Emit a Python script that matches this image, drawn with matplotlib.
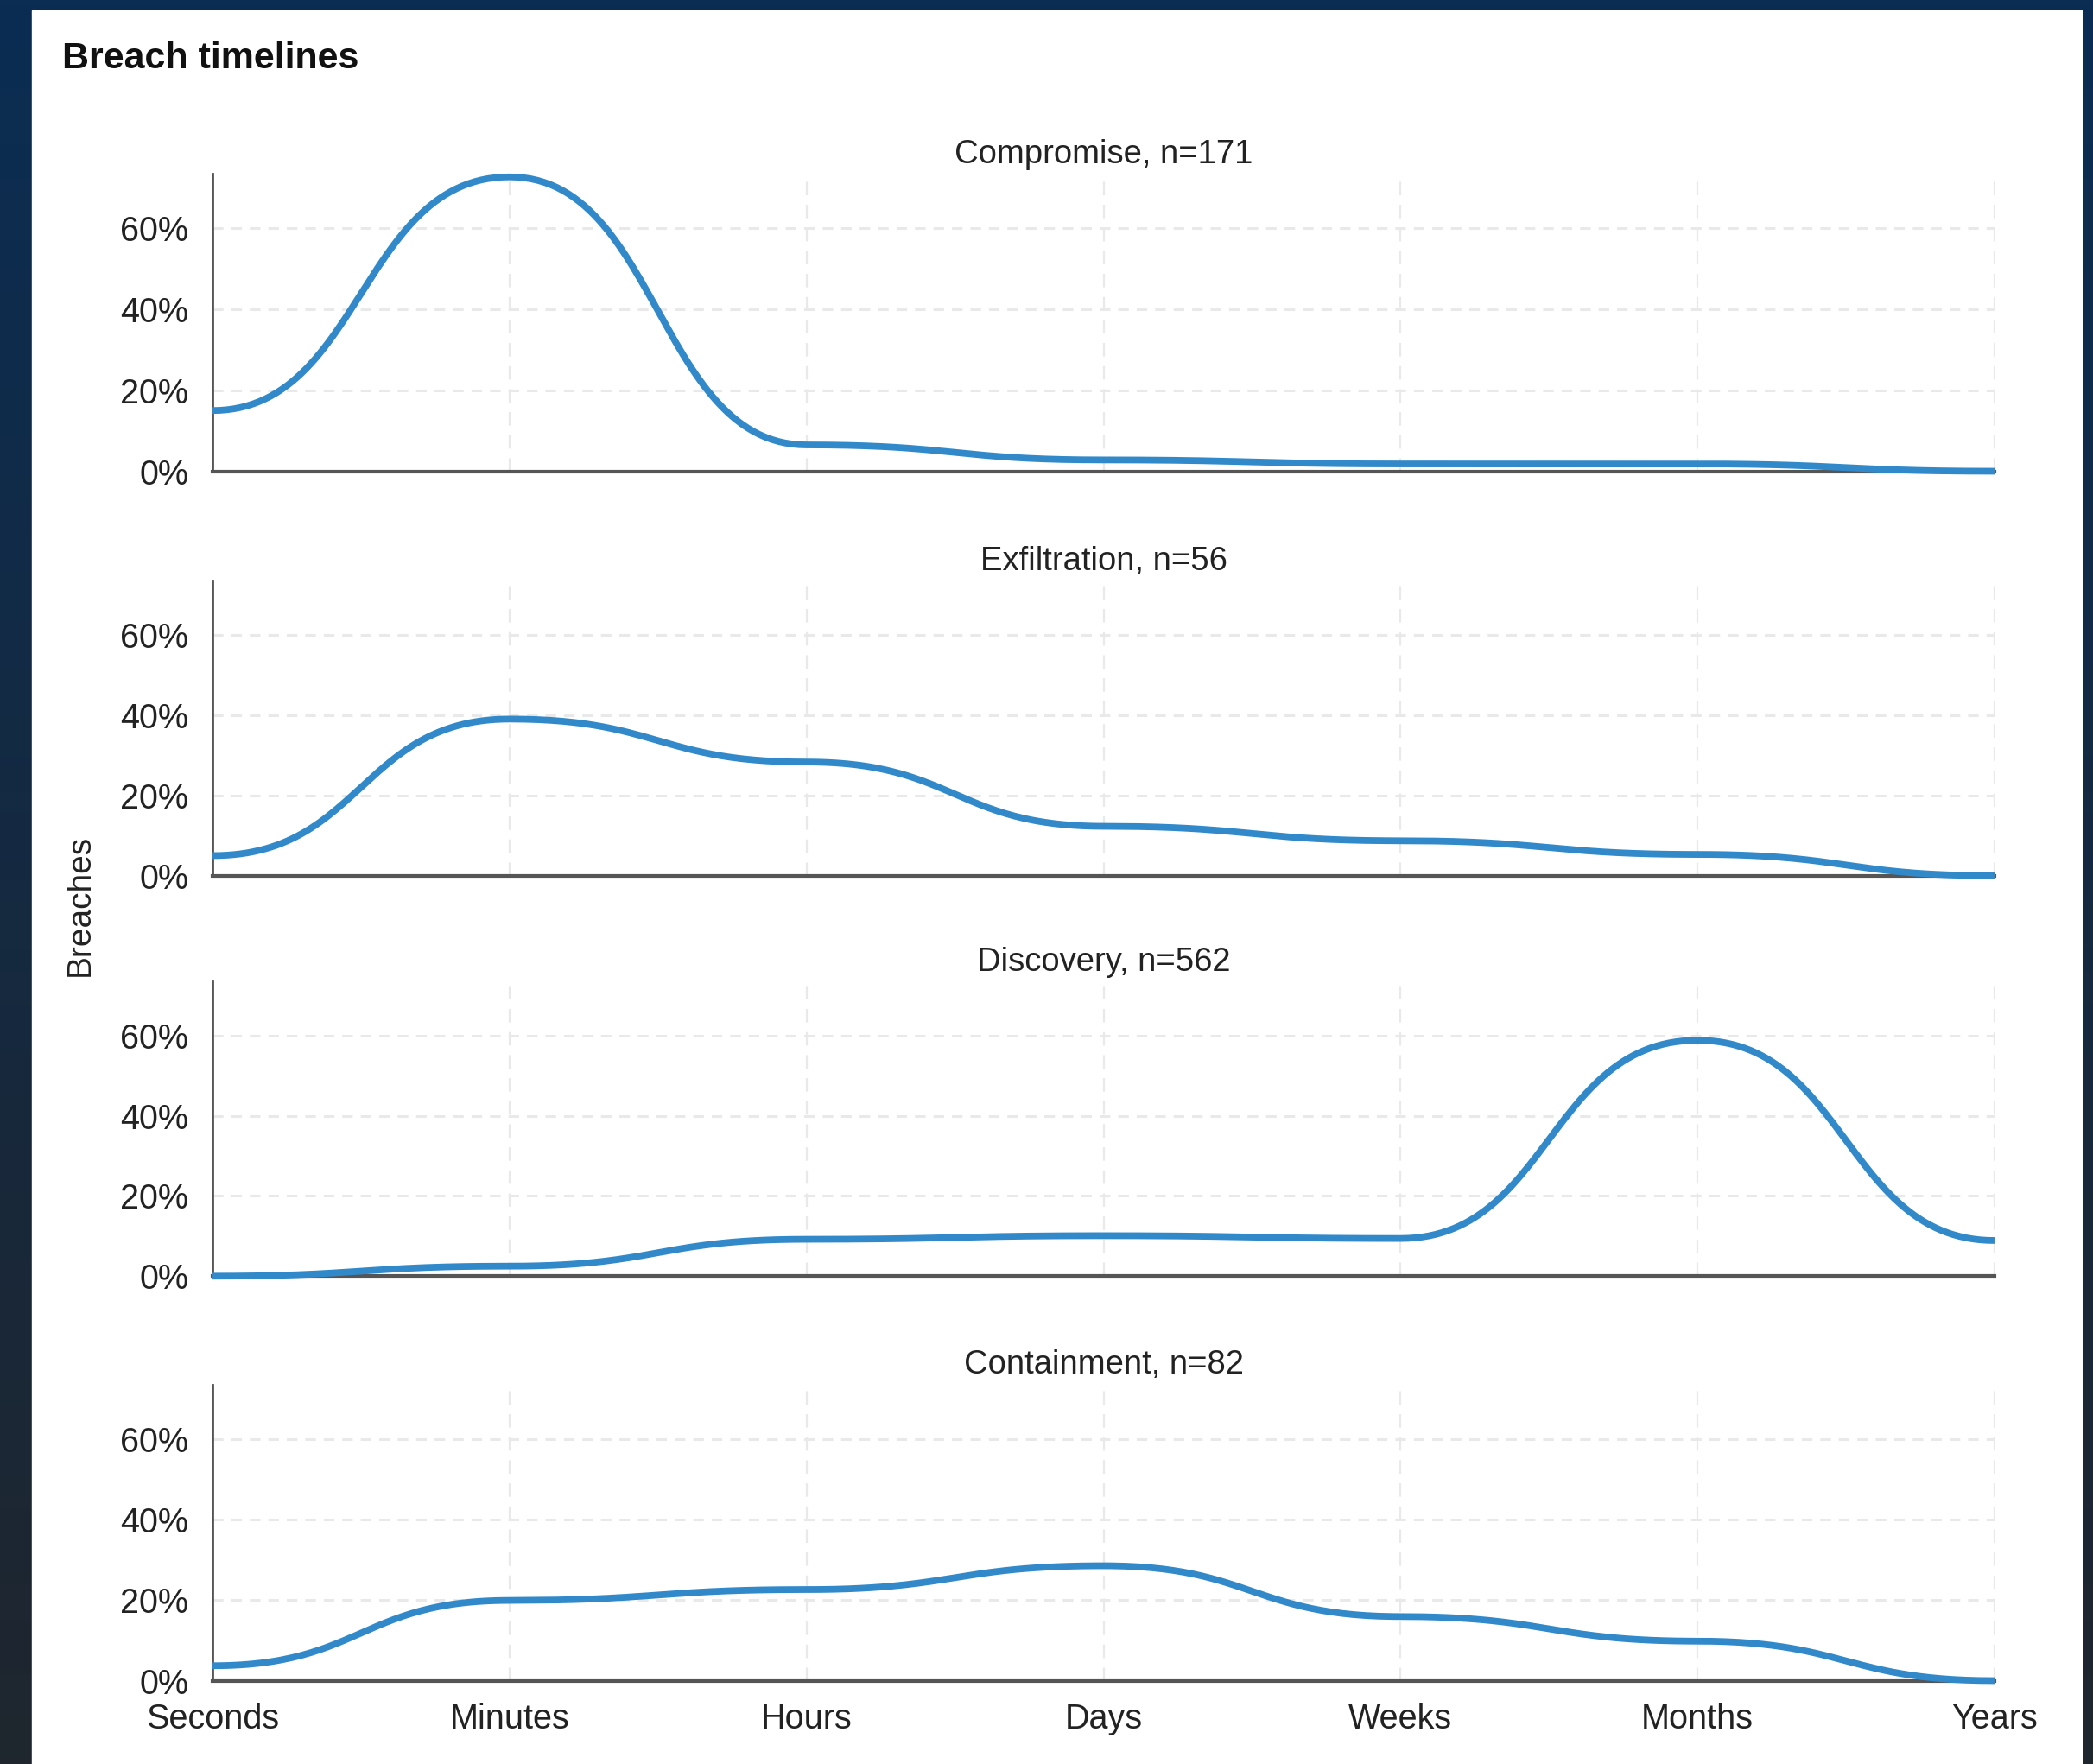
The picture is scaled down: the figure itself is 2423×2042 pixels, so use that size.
import numpy as np
import matplotlib
matplotlib.use("Agg")
import matplotlib.pyplot as plt
from matplotlib.patches import Rectangle
from matplotlib.ticker import FuncFormatter

plt.rcParams['font.family'] = ['Liberation Sans', 'DejaVu Sans']

# ---- data ----
stages = ["Seconds", "Minutes", "Hours", "Days", "Weeks", "Months", "Years"]
panel_titles = ["Compromise, n=171", "Exfiltration, n=56", "Discovery, n=562", "Containment, n=82"]
compromise = [15.0, 72.7, 6.5, 2.8, 1.8, 1.8, 0.0]
exfiltration = [5.0, 39.0, 28.3, 12.3, 8.7, 5.3, 0.0]
discovery = [0.0, 2.5, 9.2, 10.1, 9.4, 58.8, 8.9]
containment = [3.7, 19.9, 22.6, 28.5, 15.9, 9.8, 0.0]
y_ticks = [0, 20, 40, 60]
y_max = 73.5

series = [compromise, exfiltration, discovery, containment]

W, H = 2423, 2042
fig = plt.figure(figsize=(W / 100, H / 100), dpi=100)

# background gradient + white panel
bg = fig.add_axes([0, 0, 1, 1], zorder=-10)
grad = np.linspace(0, 1, 256).reshape(-1, 1)
top = np.array([11, 45, 83]) / 255
bot = np.array([31, 38, 46]) / 255
img = top[None, None, :] * (1 - grad[:, :, None]) + bot[None, None, :] * grad[:, :, None]
bg.imshow(img, extent=[0, 1, 0, 1], aspect='auto', origin='upper')
bg.add_patch(Rectangle((37 / W, 0), (2410 - 37) / W, (H - 12) / H, color='white', zorder=2))
bg.set_xlim(0, 1)
bg.set_ylim(0, 1)
bg.axis('off')


def bump(xs, ys, n=60):
    """d3.curveBumpX style: cubic Bezier with horizontal tangents at each point."""
    X, Y = [], []
    t = np.linspace(0, 1, n)
    for i in range(len(xs) - 1):
        x0, x1 = xs[i], xs[i + 1]
        y0, y1 = ys[i], ys[i + 1]
        xm = (x0 + x1) / 2
        bx = (1 - t) ** 3 * x0 + 3 * (1 - t) ** 2 * t * xm + 3 * (1 - t) * t ** 2 * xm + t ** 3 * x1
        by = (1 - t) ** 3 * y0 + 3 * (1 - t) ** 2 * t * y0 + 3 * (1 - t) * t ** 2 * y1 + t ** 3 * y1
        if i > 0:
            bx, by = bx[1:], by[1:]
        X.append(bx)
        Y.append(by)
    return np.concatenate(X), np.concatenate(Y)


left = 246 / W
width = (2309 - 246) / W
tops = [201, 672, 1136, 1602.5]
bottoms = [545.5, 1013.7, 1477.3, 1945.5]
text_col = '#222222'
spine_col = '#555555'
grid_col = '#e9e9e9'
line_col = '#3189c9'

xs = np.arange(len(stages))
axes = []
for k, (vals, title) in enumerate(zip(series, panel_titles)):
    b = 1 - bottoms[k] / H
    h = (bottoms[k] - tops[k]) / H
    ax = fig.add_axes([left, b, width, h])
    axes.append(ax)
    ax.set_xlim(0, len(stages) - 1)
    ax.set_ylim(0, y_max)
    for yv in y_ticks[1:]:
        ax.axhline(yv, color=grid_col, lw=2.2, dashes=(4, 3), zorder=0)
    for xv in xs[1:]:
        ax.axvline(xv, color=grid_col, lw=1.6, dashes=(7, 5), zorder=0)
    cx, cy = bump(xs, vals)
    ax.plot(cx, cy, color=line_col, lw=5.6, solid_capstyle='butt', clip_on=False, zorder=3)
    for s in ['top', 'right']:
        ax.spines[s].set_visible(False)
    ax.spines['left'].set_color(spine_col)
    ax.spines['left'].set_linewidth(2.0)
    ax.spines['bottom'].set_color(spine_col)
    ax.spines['bottom'].set_linewidth(3.0)
    ax.spines['bottom'].set_zorder(2.5)
    ax.set_yticks(y_ticks)
    ax.yaxis.set_major_formatter(FuncFormatter(lambda v, p: f"{int(round(v))}%"))
    ax.tick_params(axis='y', length=0, pad=20, labelsize=28.5, labelcolor=text_col)
    ax.set_xticks(xs)
    if k == len(series) - 1:
        ax.set_xticklabels(stages)
        ax.tick_params(axis='x', length=0, pad=18, labelsize=28.5, labelcolor=text_col)
    else:
        ax.set_xticklabels([])
        ax.tick_params(axis='x', length=0)
    ax.annotate(title, xy=(0.5, 1), xycoords='axes fraction', xytext=(0, 16),
                textcoords='offset points', ha='center', va='center',
                fontsize=27.5, color=text_col)
    ax.set_facecolor('none')

fig.text(72 / W, 1 - 68 / H, "Breach timelines", fontsize=31, fontweight='bold',
         color='#111111', ha='left', va='center')
fig.text(93 / W, 1 - 1048 / H, "Breaches", fontsize=28, rotation=90,
         color=text_col, ha='center', va='center')

fig.savefig("out.png", dpi=100)
